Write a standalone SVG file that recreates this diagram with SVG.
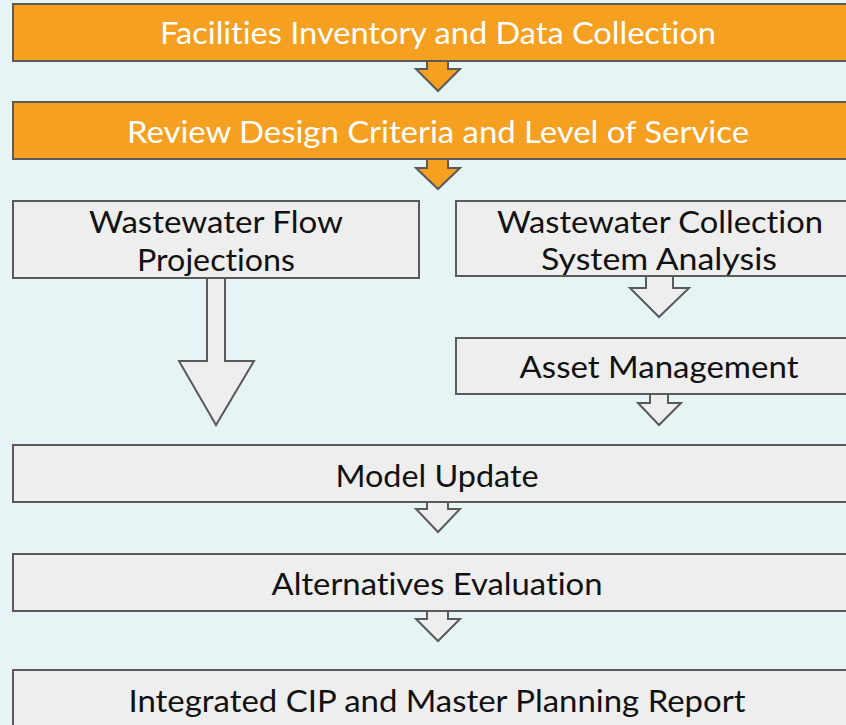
<svg xmlns="http://www.w3.org/2000/svg" width="846" height="725" viewBox="0 0 846 725">
<style>
.bg{fill:#E6F4F5}
.o{fill:#F5A021;stroke:#5A5A5A;stroke-width:2}
.g{fill:#EEEEEE;stroke:#5A5A5A;stroke-width:2}
.t{font-family:Lato,"Open Sans","Liberation Sans",sans-serif;font-size:30px;text-anchor:middle;font-variant-ligatures:none;font-feature-settings:"liga" 0}
.w{fill:#FFFFFF}
.k{fill:#111111}
</style>
<rect class="bg" x="0" y="0" width="846" height="725"/>
<g id="connectors">
<polygon class="o" points="427,61 448,61 448,69 460,69 438,91 416,69 427,69"/>
<polygon class="o" points="427,159 448,159 448,168 460,168 438,189 416,168 427,168"/>
<polygon class="g" points="207,278 225,278 225,361 254,361 216,425 179,361 207,361"/>
<polygon class="g" points="646,276 673,276 673,288 689,288 659,317 630,288 646,288"/>
<polygon class="g" points="650,394 668,394 668,403 681,403 659,425 638,403 650,403"/>
<polygon class="g" points="427,502 448,502 448,509 460,509 438,532 416,509 427,509"/>
<polygon class="g" points="427,611 448,611 448,619 460,619 438,641 416,619 427,619"/>
</g>
<g id="n1"><rect class="o" x="13" y="4" width="850" height="57"/><text class="t w" x="438" y="44" textLength="556" lengthAdjust="spacingAndGlyphs">Facilities Inventory and Data Collection</text></g>
<g id="n2"><rect class="o" x="13" y="102" width="850" height="57"/><text class="t w" x="438" y="143" textLength="622" lengthAdjust="spacingAndGlyphs">Review Design Criteria and Level of Service</text></g>
<g id="n3"><rect class="g" x="13" y="201" width="406" height="77"/><text class="t k" x="216" y="233" textLength="254" lengthAdjust="spacingAndGlyphs">Wastewater Flow</text><text class="t k" x="216" y="271" textLength="158" lengthAdjust="spacingAndGlyphs">Projections</text></g>
<g id="n4"><rect class="g" x="456" y="201" width="407" height="75"/><text class="t k" x="660" y="233" textLength="326" lengthAdjust="spacingAndGlyphs">Wastewater Collection</text><text class="t k" x="659" y="270" textLength="236" lengthAdjust="spacingAndGlyphs">System Analysis</text></g>
<g id="n5"><rect class="g" x="456" y="338" width="407" height="56"/><text class="t k" x="659" y="378" textLength="279" lengthAdjust="spacingAndGlyphs">Asset Management</text></g>
<g id="n6"><rect class="g" x="13" y="445" width="850" height="57"/><text class="t k" x="437" y="487" textLength="203" lengthAdjust="spacingAndGlyphs">Model Update</text></g>
<g id="n7"><rect class="g" x="13" y="554" width="850" height="57"/><text class="t k" x="437" y="595" textLength="331" lengthAdjust="spacingAndGlyphs">Alternatives Evaluation</text></g>
<g id="n8"><rect class="g" x="13" y="670" width="850" height="80"/><text class="t k" x="437" y="712" textLength="617" lengthAdjust="spacingAndGlyphs">Integrated CIP and Master Planning Report</text></g>
</svg>
